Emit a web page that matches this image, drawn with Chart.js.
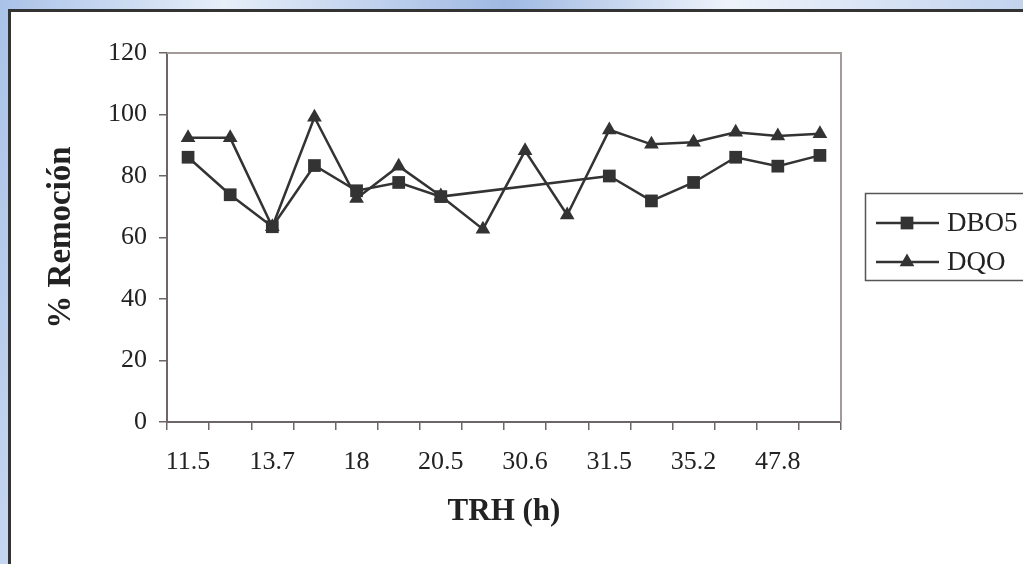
<!DOCTYPE html>
<html>
<head>
<meta charset="utf-8">
<script src="https://cdn.jsdelivr.net/npm/chart.js@4.4.0/dist/chart.umd.min.js"></script>
<style>
  html, body { margin: 0; padding: 0; }
  body {
    width: 1023px; height: 564px; overflow: hidden; position: relative;
    background: linear-gradient(100deg, #a9c2e8 0%, #e6eef9 20%, #9fb9e3 45%, #eef3fb 65%, #b3c8ea 100%);
  }
  #frame {
    position: absolute; left: 8px; top: 9px; width: 1100px; height: 700px;
    border: 3px solid #333; background: #fff;
  }
  #wrap { position: absolute; left: 0; top: 0; width: 1023px; height: 564px; }
</style>
</head>
<body>
<div id="frame"></div>
<div id="wrap"><canvas id="myChart" width="1023" height="564"></canvas></div>
<script>
// TRH (h) - solo se ve una etiqueta de cada dos
var trh = ['11.5', '', '13.7', '', '18', '', '20.5', '', '30.6', '', '31.5', '', '35.2', '', '47.8', ''];
// % remoción
var dbo5 = [86.1, 73.9, 63.5, 83.4, 75.2, 77.9, 73.3, null, null, null, 80.0, 71.9, 77.9, 86.1, 83.2, 86.7];
var dqo  = [92.4, 92.4, 63.5, 99.1, 72.7, 83.2, 73.5, 62.7, 88.2, 67.3, 95.0, 90.3, 91.0, 94.2, 93.0, 93.7];
var yTicks = [0, 20, 40, 60, 80, 100, 120];

var serif = "'Liberation Serif', 'Times New Roman', serif";
var ink = '#333333';

// marco del area de trazado (arriba y derecha grises)
var plotFrame = {
  id: 'plotFrame',
  beforeDatasetsDraw: function(chart){
    var a = chart.chartArea, ctx = chart.ctx;
    ctx.save();
    ctx.strokeStyle = '#a39b99';
    ctx.lineWidth = 2;
    ctx.beginPath();
    ctx.moveTo(a.left, a.top);
    ctx.lineTo(a.right, a.top);
    ctx.lineTo(a.right, a.bottom);
    ctx.stroke();
    ctx.restore();
  }
};

// leyenda con caja, linea + marcador
var boxLegend = {
  id: 'boxLegend',
  afterDraw: function(chart){
    var ctx = chart.ctx;
    var rows = [223, 262];
    ctx.save();
    ctx.strokeStyle = '#555';
    ctx.lineWidth = 1.5;
    ctx.strokeRect(865.5, 193.5, 170, 87);
    chart.data.datasets.forEach(function(ds, i){
      var y = rows[i];
      ctx.strokeStyle = ds.borderColor;
      ctx.lineWidth = ds.borderWidth;
      ctx.beginPath();
      ctx.moveTo(876, y);
      ctx.lineTo(939, y);
      ctx.stroke();
      ctx.fillStyle = ds.pointBackgroundColor;
      Chart.helpers.drawPoint(ctx, {pointStyle: ds.pointStyle, radius: ds.pointRadius, rotation: 0, borderWidth: 0}, 907, y);
      ctx.fillStyle = '#222';
      ctx.font = '27px ' + serif;
      ctx.textAlign = 'left';
      ctx.textBaseline = 'middle';
      ctx.fillText(ds.label, 947, y + 1);
    });
    ctx.restore();
  }
};

var ctx = document.getElementById('myChart').getContext('2d');
var myChart = new Chart(ctx, {
  type: 'line',
  data: {
    labels: trh,
    datasets: [{
      label: 'DBO5',
      data: dbo5,
      borderColor: ink,
      borderWidth: 2.5,
      pointStyle: 'rect',
      pointRadius: 9,
      pointBackgroundColor: ink,
      pointBorderWidth: 0,
      spanGaps: true,
      tension: 0
    }, {
      label: 'DQO',
      data: dqo,
      borderColor: ink,
      borderWidth: 2.5,
      pointStyle: 'triangle',
      pointRadius: 8.5,
      pointBackgroundColor: ink,
      pointBorderWidth: 0,
      spanGaps: true,
      tension: 0
    }]
  },
  options: {
    responsive: false,
    devicePixelRatio: 1,
    animation: false,
    layout: { padding: { left: 0, top: 53, right: 182, bottom: 0 } },
    plugins: {
      legend: { display: false },
      tooltip: { enabled: false }
    },
    scales: {
      x: {
        offset: true,
        grid: { offset: true, drawOnChartArea: false, tickLength: 8, color: '#6e6666', lineWidth: 1.5 },
        border: { color: '#6e6666', width: 2 },
        ticks: { autoSkip: false, maxRotation: 0, padding: 17, color: '#222', font: { family: serif, size: 26 } },
        title: { display: true, text: 'TRH (h)', color: '#222', font: { family: serif, size: 31, weight: 'bold' }, padding: { top: 0, bottom: 33 } },
        afterFit: function(scale){ scale.height = 142; }
      },
      y: {
        min: 0,
        max: 120,
        afterBuildTicks: function(scale){ scale.ticks = yTicks.map(function(v){ return {value: v}; }); },
        grid: { drawOnChartArea: false, tickLength: 8, color: '#6e6666', lineWidth: 1.5 },
        border: { color: '#6e6666', width: 2 },
        ticks: { padding: 12, color: '#222', font: { family: serif, size: 26 } },
        title: { display: true, text: '% Remoción', color: '#222', font: { family: serif, size: 33, weight: 'bold' }, padding: { top: 42, bottom: 0 } },
        afterFit: function(scale){ scale.width = 167; }
      }
    }
  },
  plugins: [plotFrame, boxLegend]
});
</script>
</body>
</html>
